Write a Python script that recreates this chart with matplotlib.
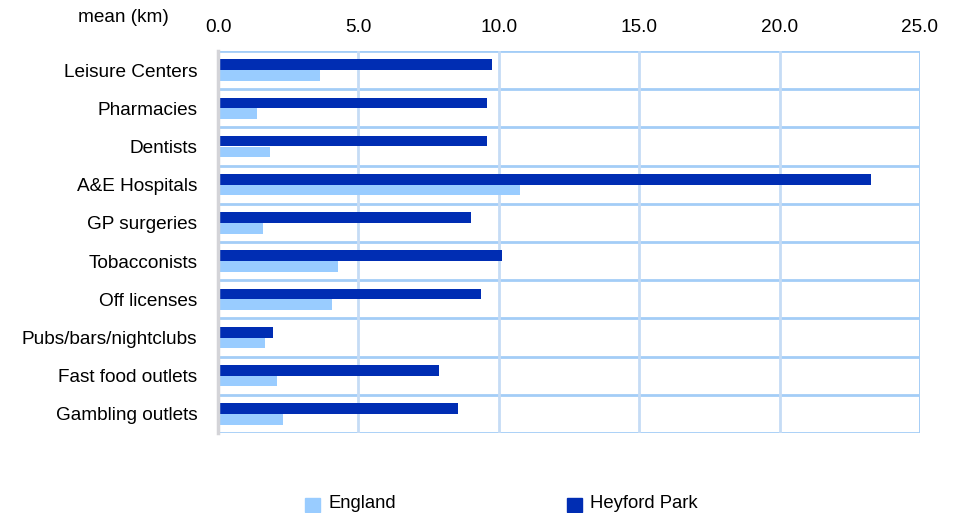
import matplotlib.pyplot as plt
import numpy as np
from matplotlib.patches import Rectangle

plt.rcParams['font.family'] = ['Liberation Sans', 'DejaVu Sans']

categories = ['Leisure Centers', 'Pharmacies', 'Dentists', 'A&E Hospitals', 'GP surgeries',
              'Tobacconists', 'Off licenses', 'Pubs/bars/nightclubs', 'Fast food outlets',
              'Gambling outlets']
england = [3.64, 1.39, 1.85, 10.77, 1.60, 4.28, 4.07, 1.68, 2.10, 2.32]
heyford = [9.77, 9.59, 9.59, 23.25, 9.02, 10.13, 9.38, 1.96, 7.88, 8.56]
xticks = [0, 5, 10, 15, 20, 25]

fs = 13.7

fig = plt.figure(figsize=(9.57, 5.13), dpi=100)
ax = fig.add_axes([218 / 957, 1 - 433 / 513, (920 - 218) / 957, (433 - 51) / 513])

n = len(categories)
y = np.arange(n)
bh = 0.28
ax.barh(y - bh / 2, heyford, height=bh, color='#002db3', zorder=3)
ax.barh(y + bh / 2, england, height=bh, color='#99ccff', zorder=3)

ax.set_xlim(0, 25)
ax.set_ylim(n - 0.5, -0.5)
ax.set_yticks(y)
ax.set_yticklabels(categories, fontsize=fs)
ax.set_xticks(xticks)
ax.set_xticklabels([f'{v:.1f}' for v in xticks], fontsize=fs)
ax.xaxis.tick_top()
ax.tick_params(axis='y', length=0, pad=15)
ax.tick_params(axis='x', length=0, pad=11)

# grid: horizontal row separators and vertical lines
for b in np.arange(-0.5, n, 1.0):
    ax.axhline(b, color='#a3cdf7', lw=2, zorder=1)
for v in xticks[1:]:
    ax.axvline(v, color='#c5dcf5', lw=2, zorder=1)
ax.axvline(25, color='#a3cdf7', lw=2, zorder=1)

for s in ['top', 'right', 'bottom']:
    ax.spines[s].set_visible(False)
ax.spines['left'].set_color('#d4d4d8')
ax.spines['left'].set_linewidth(2.5)
ax.spines['left'].set_zorder(4)

fig.text(123 / 957, 1 - 17 / 513, 'mean (km)', fontsize=fs, ha='center', va='center')

# legend
for x0, label, col in [(305, 'England', '#99ccff'), (567, 'Heyford Park', '#002db3')]:
    fig.patches.append(Rectangle((x0 / 957, 1 - 512 / 513), 15 / 957, 14 / 513,
                                 transform=fig.transFigure, color=col))
    fig.text((x0 + 23) / 957, 1 - 504 / 513, label, fontsize=13.3, va='center')

fig.savefig('out.png', dpi=100)
